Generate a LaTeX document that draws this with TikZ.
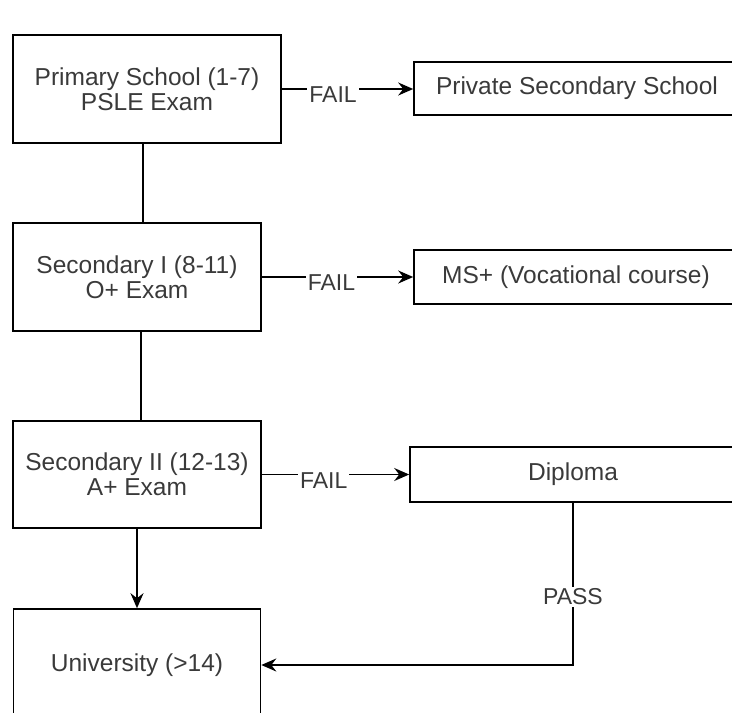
\documentclass[tikz,border=0pt]{standalone}
\usepackage{fontspec}
\setmainfont{Liberation Sans}
\usetikzlibrary{arrows.meta,calc}
\definecolor{txt}{RGB}{58,58,58}
\begin{document}
\begin{tikzpicture}[x=1pt,y=-1pt,
  box/.style={draw=black,line width=1.6pt,rectangle,inner sep=0pt,align=center,text=txt,font=\fontsize{24.5}{25}\selectfont},
  conn/.style={line width=1.5pt,draw=black},
  arr/.style={conn,-{Stealth[length=15pt,width=13pt,inset=5pt]}},
  lbl/.style={fill=white,text=txt,font=\fontsize{23}{23}\selectfont,inner sep=2pt},
  faillbl/.style={lbl,yshift=-6pt}]
\useasboundingbox (0,0) rectangle (732,713);
\node[box,minimum width=268pt,minimum height=108pt] (p1) at (147,89) {Primary School (1-7)\\PSLE Exam};
\node[box,minimum width=326pt,minimum height=53pt] (ps) at (577,88.5) {Private Secondary School};
\node[box,minimum width=248pt,minimum height=108pt] (s1) at (137,277) {Secondary I (8-11)\\O+ Exam};
\node[box,minimum width=324pt,minimum height=54pt] (ms) at (576,277) {MS+ (Vocational course)};
\node[box,minimum width=248pt,minimum height=107pt] (s2) at (137,474.5) {Secondary II (12-13)\\A+ Exam};
\node[box,minimum width=326pt,minimum height=55pt] (dip) at (573,474.5) {Diploma};
\node[box,minimum width=247pt,minimum height=112pt] (uni) at (137,665) {University (>14)};
\coordinate (xa) at (143,0);
\coordinate (xb) at (141,0);
\draw[arr] (p1.east) -- (p1.east -| ps.west) node[faillbl,pos=0.39]{FAIL};
\draw[arr] (s1.east) -- (s1.east -| ms.west) node[faillbl,pos=0.46]{FAIL};
\draw[arr] (s2.east) -- (s2.east -| dip.west) node[faillbl,pos=0.42]{FAIL};
\draw[conn] (p1.south -| xa) -- (s1.north -| xa);
\draw[conn] (s1.south -| xb) -- (s2.north -| xb);
\draw[arr] (s2.south) -- (uni.north);
\draw[arr] (dip.south) |- (uni.east) node[lbl,pos=0.29]{PASS};
\end{tikzpicture}
\end{document}
